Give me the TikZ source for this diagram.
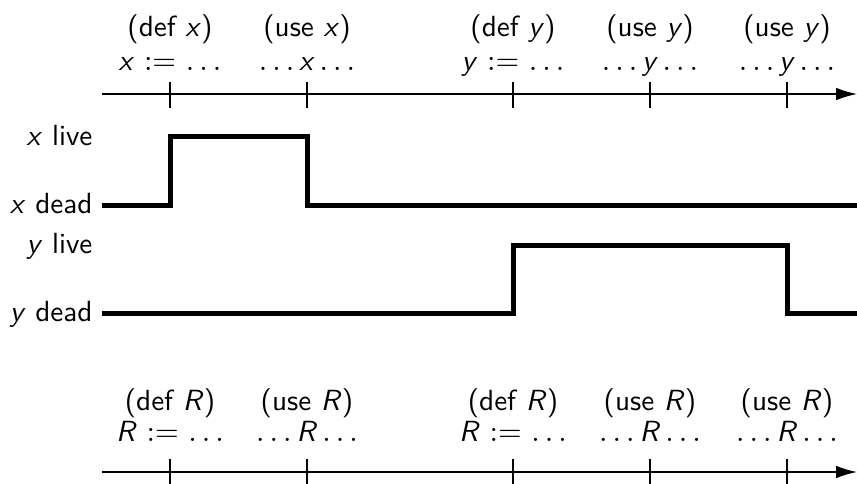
\documentclass[tikz,border=0pt]{standalone}
\usetikzlibrary{arrows.meta}
\renewcommand{\familydefault}{\sfdefault}
\newcommand{\vv}[1]{\textit{#1}}
\newcommand{\dd}{$\ldots$}
\newcommand{\uu}[1]{\dd\,\vv{#1}\,\dd}
\begin{document}
\begin{tikzpicture}[x=0.36pt,y=-0.36pt,
  axis/.style={line width=0.5pt,-{Latex[length=7.5pt,width=4.5pt]}},
  tick/.style={line width=0.5pt},
  sig/.style={line width=1.8pt},
  lab/.style={inner sep=0pt,anchor=base,font=\fontsize{10.5}{12}\selectfont},
  side/.style={inner sep=0pt,anchor=base east,font=\fontsize{10.5}{12}\selectfont}]
\useasboundingbox (0,0) rectangle (857,484);
% top axis
\coordinate (ta0) at (102,94); \coordinate (ta1) at (857,94);
\draw[axis] (ta0) -- (ta1);
\foreach \x in {170,307,513,650,787}{
  \draw[tick] (\x,82) -- (\x,108);
}
\node[lab] (t1a) at (170,36) {(def \vv{x})};
\node[lab] (t2a) at (170,70) {\vv{x} $:=$ \dd};
\node[lab] (t1b) at (307,36) {(use \vv{x})};
\node[lab] (t2b) at (307,70) {\uu{x}};
\node[lab] (t1c) at (513,36) {(def \vv{y})};
\node[lab] (t2c) at (513,70) {\vv{y} $:=$ \dd};
\node[lab] (t1d) at (650,36) {(use \vv{y})};
\node[lab] (t2d) at (650,70) {\uu{y}};
\node[lab] (t1e) at (787,36) {(use \vv{y})};
\node[lab] (t2e) at (787,70) {\uu{y}};
% x signal
\node[side] (xl) at (93,145) {\vv{x} live};
\node[side] (xd) at (93,213) {\vv{x} dead};
\draw[sig] (102,205) -- (170.5,205) -- (170.5,136) -- (307,136) -- (307,205) -- (857,205);
% y signal
\node[side] (yl) at (93,253) {\vv{y} live};
\node[side] (yd) at (93,321) {\vv{y} dead};
\draw[sig] (102,313) -- (513,313) -- (513,245) -- (787,245) -- (787,313) -- (857,313);
% bottom axis
\coordinate (ba0) at (102,472); \coordinate (ba1) at (857,472);
\draw[axis] (ba0) -- (ba1);
\foreach \x in {170,307,513,650,787}{
  \draw[tick] (\x,459) -- (\x,484);
}
\node[lab] (b1a) at (170,410) {(def \vv{R})};
\node[lab] (b2a) at (170,441) {\vv{R} $:=$ \dd};
\node[lab] (b1b) at (307,410) {(use \vv{R})};
\node[lab] (b2b) at (307,441) {\uu{R}};
\node[lab] (b1c) at (513,410) {(def \vv{R})};
\node[lab] (b2c) at (513,441) {\vv{R} $:=$ \dd};
\node[lab] (b1d) at (650,410) {(use \vv{R})};
\node[lab] (b2d) at (650,441) {\uu{R}};
\node[lab] (b1e) at (787,410) {(use \vv{R})};
\node[lab] (b2e) at (787,441) {\uu{R}};
\end{tikzpicture}
\end{document}
